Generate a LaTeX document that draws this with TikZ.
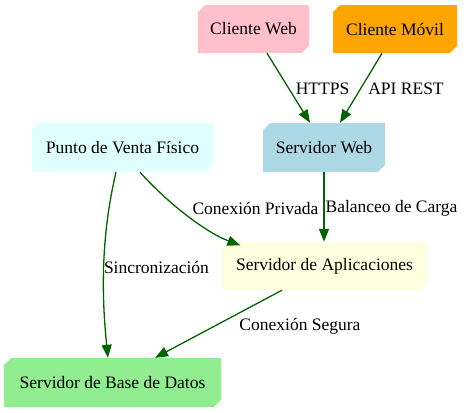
\documentclass[tikz,border=0pt]{standalone}
\usepackage{fontspec}
\setmainfont{Liberation Serif}
\usetikzlibrary{shapes.misc,arrows.meta}
\definecolor{cpink}{RGB}{255,192,203}
\definecolor{corange}{RGB}{255,165,0}
\definecolor{ccyan}{RGB}{224,255,255}
\definecolor{cblue}{RGB}{173,216,230}
\definecolor{cgreen}{RGB}{144,238,144}
\definecolor{cyellow}{RGB}{255,255,224}
\definecolor{edgegreen}{RGB}{0,100,0}
\tikzset{
  box/.style={chamfered rectangle, chamfered rectangle corners={north west,south east},
    chamfered rectangle xsep=4pt,
    draw=none, inner sep=0pt, minimum height=48pt,
    font=\fontsize{17.5}{21}\selectfont},
  lbl/.style={inner sep=0pt, font=\fontsize{17.5}{21}\selectfont},
  conn/.style={draw=edgegreen, line width=1.3pt, -{Triangle[length=13pt,width=10pt]}, shorten >=0pt}
}
\begin{document}
\begin{tikzpicture}[x=1pt,y=-1pt]
\useasboundingbox (0,0) rectangle (467,413);
\node[box, fill=cpink, minimum width=111pt] (cw) at (253.5,29) {Cliente Web};
\node[box, fill=corange, minimum width=124pt] (cm) at (395,29) {Cliente Móvil};
\node[box, fill=ccyan, minimum width=181pt, minimum height=49pt] (pv) at (122.5,147.5) {Punto de Venta Físico};
\node[box, fill=cblue, minimum width=122pt, minimum height=49pt] (sw) at (324,147.5) {Servidor Web};
\node[box, fill=cyellow, minimum width=205pt] (ap) at (324.5,266) {Servidor de Aplicaciones};
\node[box, fill=cgreen, minimum width=217pt, minimum height=49pt] (bd) at (112.5,382.5) {Servidor de Base de Datos};

\draw[conn] ([xshift=13.5pt]cw.south) -- ([xshift=-14pt]sw.north);
\draw[conn] ([xshift=-13pt]cm.south) -- ([xshift=16pt]sw.north);
\draw[conn] ([xshift=-6.5pt]pv.south) .. controls +(-16,68) and +(-6,-58) .. ([xshift=-4.5pt]bd.north);
\draw[conn] ([xshift=17.5pt]pv.south) .. controls +(25,28) and +(-37,-14) .. ([xshift=15pt]ap.north west);
\draw[conn] (sw.south) -- (sw.south |- ap.north);
\draw[conn] ([xshift=-42.5pt]ap.south) -- ([xshift=42.5pt]bd.north);

\node[lbl] (l1) at (322.5,89) {HTTPS};
\node[lbl] (l2) at (406,89) {API REST};
\node[lbl] (l3) at (255.5,208) {Conexión Privada};
\node[lbl] (l4) at (391.5,208) {Balanceo de Carga};
\node[lbl] (l5) at (156.5,267) {Sincronización};
\node[lbl] (l6) at (300,326) {Conexión Segura};
\end{tikzpicture}
\end{document}
